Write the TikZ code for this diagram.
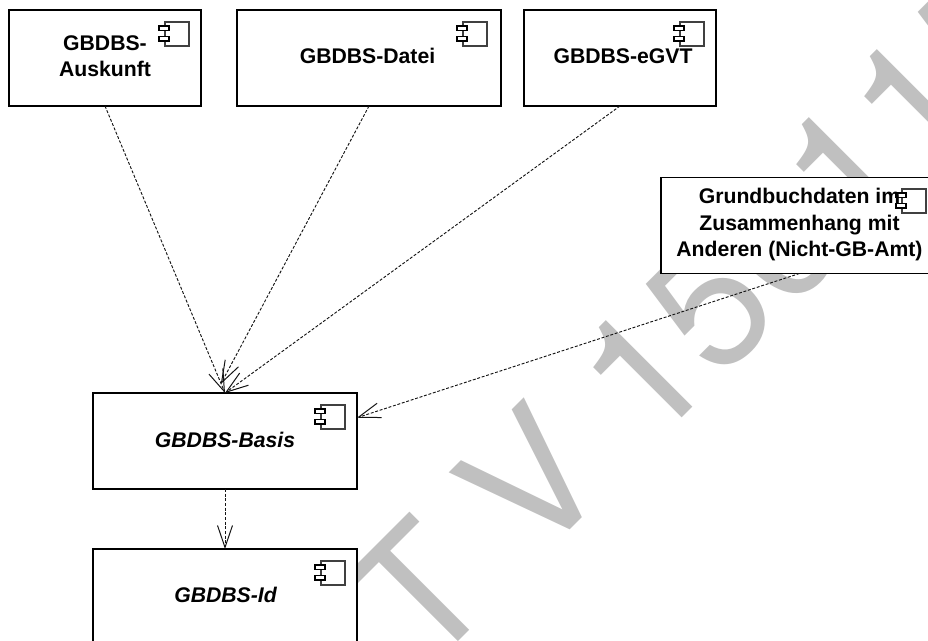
\documentclass[tikz,border=0pt]{standalone}
\usepackage{fontspec}
\setmainfont{Liberation Sans}
\newfontfamily\wmfont{TeX Gyre Heros}
\usetikzlibrary{arrows.meta,calc}
\definecolor{wm}{RGB}{192,192,192}
\definecolor{ink}{RGB}{20,20,20}
\tikzset{
  compbox/.style={draw=black,fill=white,line width=1.15pt,inner sep=0pt,outer sep=0pt,minimum height=72pt,minimum width=198pt},
  lbl/.style={inner sep=0pt,outer sep=0pt,align=center,font=\fontsize{15.9}{19.9}\selectfont\bfseries,anchor=base},
  ilbl/.style={lbl,font=\fontsize{15.9}{19.9}\selectfont\bfseries\itshape},
  dep/.style={draw=ink,line width=.7pt,dash pattern=on 2.2pt off 1.3pt,-{Straight Barb[length=16.5pt,width=11.25pt,line width=.75pt]}},
  icon/.pic={
    \draw[line width=.8pt,draw=black!75] (0,-12) rectangle (24,12);
    \draw[line width=.8pt,fill=white] (-6,-8) rectangle (4,-3.5);
    \draw[line width=.8pt,fill=white] (-6,2.5) rectangle (4,7);
  }
}
\begin{document}
\begin{tikzpicture}[x=.75pt,y=-.75pt]
\useasboundingbox (0,0) rectangle (928,641);
\clip (0,0) rectangle (928,641);
\node[rotate=45,anchor=base west,inner sep=0pt,text=wm,font=\wmfont\fontsize{129.5}{129.5}\selectfont] (wmark) at (426,674) {T V 150115};
\node[compbox,minimum width=144pt] (a) at (105,58) {};
\node[compbox] (d) at (369,58) {};
\node[compbox,minimum width=144pt] (e) at (620,58) {};
\node[compbox,minimum width=207.75pt] (g) at (799.5,225.5) {};
\node[compbox] (b) at (225,441) {};
\node[compbox] (i) at (225,597) {};
\foreach \x/\y in {165/34,463/34,680/34,902/201,321/417,321/573} \pic at (\x,\y) {icon};
\node[lbl] (ta) at (105,77) {GBDBS-\\Auskunft};
\node[lbl] (td) at (367.5,63.5) {GBDBS-Datei};
\node[lbl] (te) at (623,63.5) {GBDBS-eGVT};
\node[lbl] (tg) at (799.5,257) {Grundbuchdaten im\\Zusammenhang mit\\Anderen (Nicht-GB-Amt)};
\node[ilbl] (tb) at (225,447) {GBDBS-Basis};
\node[ilbl] (ti) at (225.5,602) {GBDBS-Id};
\draw[dep] (a.south) -- (b.north);
\draw[dep,shorten >=7.6pt] (d.south) -- ([xshift=-6.75pt]b.north);
\draw[dep] (e.south) -- (b.north);
\draw[dep] (g.south) -- (b.10.5);
\draw[dep] (b.south) -- (i.north);
\end{tikzpicture}
\end{document}
